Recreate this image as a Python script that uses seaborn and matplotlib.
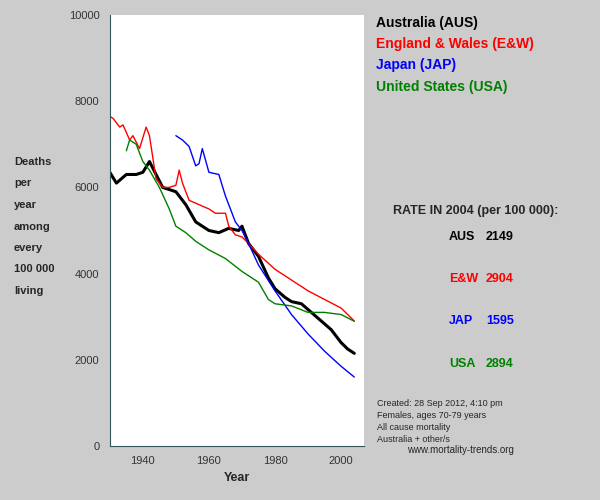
import matplotlib
matplotlib.use('Agg')
import matplotlib.pyplot as plt
import seaborn as sns
import pandas as pd

# Data
aus_years = [1930, 1932, 1935, 1938, 1940, 1942, 1944, 1946, 1950, 1953, 1956, 1960, 1963, 1966, 1969, 1970,
             1972, 1975, 1978, 1980, 1983, 1985, 1988, 1991, 1994, 1997, 2000, 2002, 2004]
aus_vals = [6350, 6100, 6300, 6300, 6350, 6600, 6300, 6000, 5900, 5600, 5200, 5000, 4950, 5050, 5000, 5100,
            4700, 4400, 3900, 3650, 3450, 3350, 3300, 3100, 2900, 2700, 2400, 2250, 2150]
ew_years = [1930, 1931, 1933, 1934, 1936, 1937, 1939, 1941, 1942, 1944, 1946, 1948, 1950, 1951, 1952, 1954,
            1957, 1960, 1962, 1965, 1966, 1968, 1970, 1972, 1975, 1980, 1985, 1990, 1995, 2000, 2004]
ew_vals = [7650, 7600, 7400, 7450, 7100, 7200, 6900, 7400, 7200, 6200, 6000, 6000, 6050, 6400, 6100, 5700,
           5600, 5500, 5400, 5400, 5100, 4900, 4850, 4700, 4450, 4100, 3850, 3600, 3400, 3200, 2900]
jap_years = [1950, 1952, 1954, 1956, 1957, 1958, 1960, 1963, 1965, 1968, 1970, 1972, 1975, 1980, 1985,
             1990, 1995, 2000, 2004]
jap_vals = [7200, 7100, 6950, 6500, 6550, 6900, 6350, 6300, 5800, 5200, 5000, 4700, 4200, 3600, 3050,
            2600, 2200, 1850, 1600]
usa_years = [1935, 1936, 1938, 1940, 1942, 1945, 1948, 1950, 1953, 1956, 1960, 1965, 1970, 1975, 1978,
             1980, 1985, 1990, 1995, 2000, 2004]
usa_vals = [6850, 7100, 7000, 6600, 6400, 6000, 5500, 5100, 4950, 4750, 4550, 4350, 4050, 3800, 3400,
            3300, 3250, 3100, 3100, 3050, 2894]

labels = ['Australia (AUS)', 'England & Wales (E&W)', 'Japan (JAP)', 'United States (USA)']
codes = ['AUS', 'E&W', 'JAP', 'USA']
rates = [2149, 2904, 1595, 2894]
colors = ['black', 'red', 'blue', 'green']

series = [(aus_years, aus_vals), (ew_years, ew_vals), (jap_years, jap_vals), (usa_years, usa_vals)]
frames = [pd.DataFrame({'year': y, 'rate': v, 'country': c}) for (y, v), c in zip(series, codes)]
df = pd.concat(frames)

sns.set_style('white')
plt.rcParams['font.family'] = ['Liberation Sans', 'DejaVu Sans']
bg = '#cccccc'
fig = plt.figure(figsize=(6, 5), dpi=100, facecolor=bg)
ax = fig.add_axes([0.183, 0.108, 0.424, 0.862])

widths = {'AUS': 2.2, 'E&W': 1, 'JAP': 1, 'USA': 1}
for c, col in zip(codes, colors):
    sns.lineplot(data=df[df.country == c], x='year', y='rate', color=col, lw=widths[c], ax=ax)

ax.set_xlim(1930, 2007)
ax.set_ylim(0, 10000)
ax.set_xticks([1940, 1960, 1980, 2000])
ax.set_xticks(range(1930, 2010, 10), minor=True)
ax.set_yticks(range(0, 10001, 2000))
ax.tick_params(axis='both', which='both', direction='out', length=4, color='#335555', labelsize=8, colors='#335555')
ax.tick_params(labelcolor='#333333')
for s in ['left', 'bottom']:
    ax.spines[s].set_color('#335555')
for s in ['top', 'right']:
    ax.spines[s].set_visible(False)
ax.set_xlabel('Year', fontsize=9, fontweight='bold')
ax.set_ylabel('')

for i, t in enumerate(['Deaths', 'per', 'year', 'among', 'every', '100 000', 'living']):
    fig.text(0.023, 0.67 - i * 0.043, t, fontsize=8, fontweight='bold')

for i, (lab, col) in enumerate(zip(labels, colors)):
    fig.text(0.627, 0.955 - i * 0.043, lab, color=col, fontsize=10, fontweight='bold', va='center')

fig.text(0.655, 0.578, 'RATE IN 2004 (per 100 000):', fontsize=9, fontweight='bold', va='center')
for i, (c, r, col) in enumerate(zip(codes, rates, colors)):
    fig.text(0.748, 0.527 - i * 0.085, c, color=col, fontsize=9, fontweight='bold', va='center')
    fig.text(0.81, 0.527 - i * 0.085, str(r), color=col, fontsize=9, fontweight='bold', va='center')

notes = ['Created: 28 Sep 2012, 4:10 pm', 'Females, ages 70-79 years', 'All cause mortality', 'Australia + other/s']
for i, t in enumerate(notes):
    fig.text(0.628, 0.192 - i * 0.024, t, fontsize=6.5, va='center')
fig.text(0.678, 0.1, 'www.mortality-trends.org', fontsize=7, va='center')

fig.savefig('out.png', dpi=100, facecolor=bg)
